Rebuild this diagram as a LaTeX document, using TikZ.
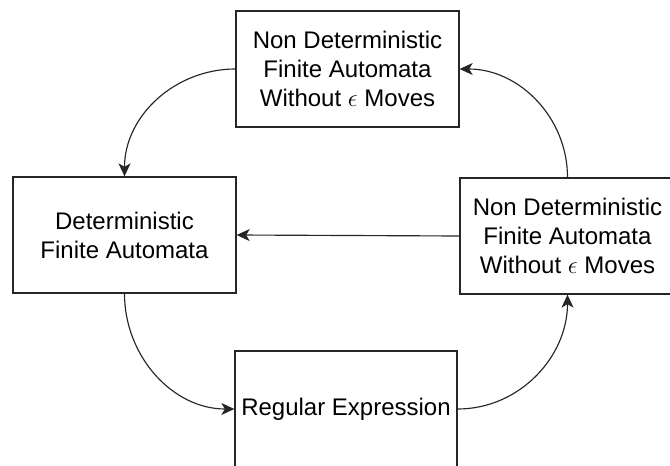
\documentclass[tikz,border=0pt]{standalone}
\usepackage{fontspec}
\setmainfont{Liberation Sans}
\usetikzlibrary{arrows.meta}
\begin{document}
\begin{tikzpicture}[x=1pt,y=-1pt,
  box/.style={draw=black!85,line width=1.3pt,minimum width=223pt,minimum height=116pt,
    inner sep=0pt,align=center,font=\fontsize{24}{29}\selectfont},
  conn/.style={draw=black!85,line width=1.15pt,-{Stealth[length=13pt,width=12pt,inset=3.5pt]}}]
\clip (0,0) rectangle (670,466);
\node[box] (nfaTop) at (347.5,69) {Non Deterministic\\Finite Automata\\Without $\epsilon$ Moves};
\node[box] (dfa) at (124.5,235) {Deterministic\\Finite Automata};
\node[box,minimum width=215pt] (nfaRight) at (567.5,236) {Non Deterministic\\Finite Automata\\Without $\epsilon$ Moves};
\node[box,minimum width=222pt] (re) at (346,409) {Regular Expression};
\draw[conn] (nfaTop.west) to[out=180,in=90] (dfa.north);
\draw[conn] (nfaRight.north) to[out=90,in=0] (nfaTop.east);
\draw[conn] (nfaRight.west) -- (dfa.east);
\draw[conn] (dfa.south) to[out=-90,in=180] (re.west);
\draw[conn] (re.east) to[out=0,in=-90] (nfaRight.south);
\end{tikzpicture}
\end{document}
